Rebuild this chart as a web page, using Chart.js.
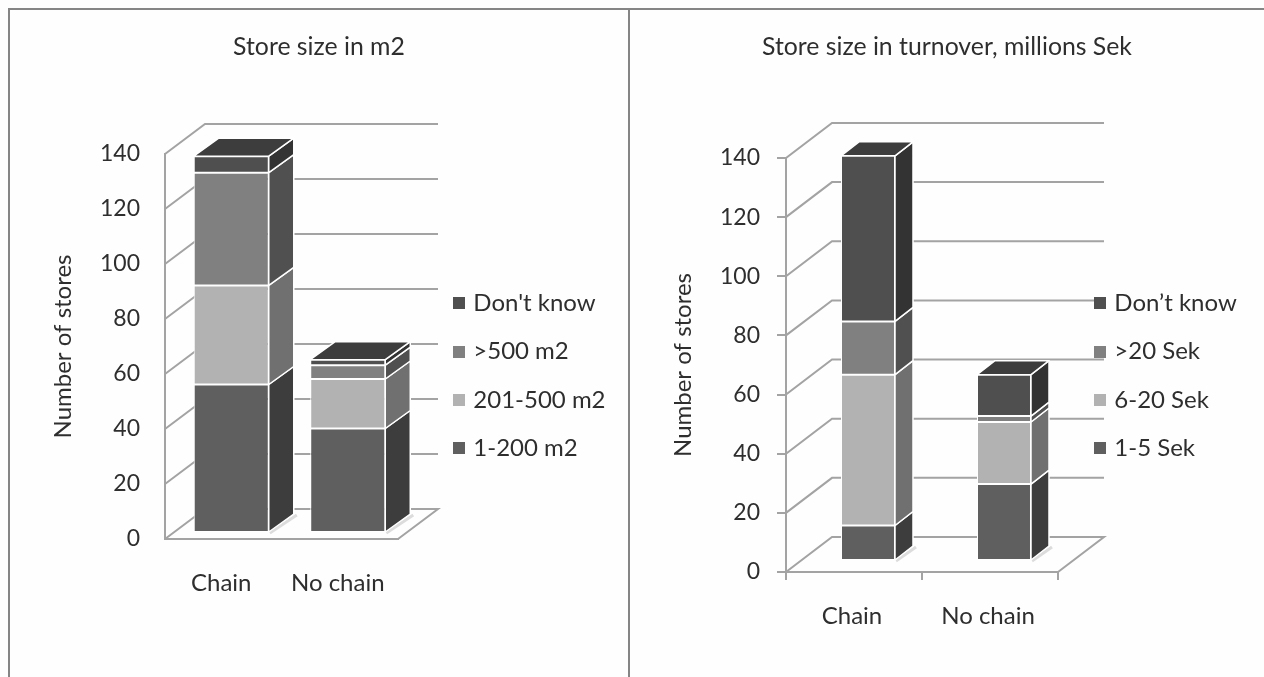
<!DOCTYPE html>
<html>
<head>
<meta charset="utf-8">
<title>Store size</title>
<script src="https://cdn.jsdelivr.net/npm/chart.js@4"></script>
<style>
  html, body { margin: 0; padding: 0; background: #fefefe; overflow: hidden; }
  body { width: 1264px; height: 677px; position: relative; }
  canvas { position: absolute; top: 0; }
  #c1 { left: 10px; }
  #c2 { left: 630px; }
  .rule { position: absolute; background: #858585; }
</style>
</head>
<body>
<div class="rule" style="left:8px;top:8px;width:1256px;height:2px"></div>
<div class="rule" style="left:8px;top:8px;width:2px;height:669px"></div>
<div class="rule" style="left:628px;top:8px;width:2px;height:669px"></div>
<canvas id="c1" width="618" height="677"></canvas>
<canvas id="c2" width="634" height="677"></canvas>
<script>
var categories = ['Chain', 'No chain'];
var yTicks = [0, 20, 40, 60, 80, 100, 120, 140];

// left chart, store size in m2
var m2Labels = ['1-200 m2', '201-500 m2', '>500 m2', "Don't know"];
var m2Small = [54, 38];
var m2Medium = [36, 18];
var m2Large = [41, 5];
var m2Unknown = [6, 2];

// right chart, turnover
var sekLabels = ['1-5 Sek', '6-20 Sek', '>20 Sek', 'Don\u2019t know'];
var sekSmall = [12, 26];
var sekMedium = [51, 21];
var sekLarge = [18, 2];
var sekUnknown = [56, 14];

var frontColors = ['#5f5f5f', '#b2b2b2', '#808080', '#4f4f4f'];
var sideColors = ['#3d3d3d', '#707070', '#505050', '#333333'];
var topColor = '#3d3d3d';
var lineColor = '#a3a3a3';
var textColor = '#2e2e2e';
var fontName = 'Lato, Carlito, sans-serif';

// legend swatch as a small canvas, so the gap to the text can be tighter than chart.js default
function swatch(color) {
  var c = document.createElement('canvas');
  c.width = 12;
  c.height = 12;
  var g = c.getContext('2d');
  g.fillStyle = color;
  g.fillRect(0, 0, 12, 12);
  return c;
}

// fake 3d: walls and floor behind the plot, side and top faces of the bars
var depthPlugin = {
  id: 'depth',
  afterLayout: function(chart, args, o) {
    var lg = chart.legend;
    lg.left = o.legendX;
    lg.right = chart.width;
    lg.top = o.legendY;
    lg.bottom = o.legendY + 240;
    chart.titleBlock.left = 0;
    chart.titleBlock.right = chart.width;
  },
  beforeDraw: function(chart, args, o) {
    var ctx = chart.ctx, y = chart.scales.y, a = chart.chartArea;
    ctx.save();
    ctx.strokeStyle = lineColor;
    ctx.lineWidth = 2;
    yTicks.forEach(function(v) {
      if (v === 0) return;
      var py = y.getPixelForValue(v);
      ctx.beginPath();
      ctx.moveTo(a.left, py);
      ctx.lineTo(a.left + o.wallX, py + o.wallY);
      ctx.lineTo(a.right + o.wallX, py + o.wallY);
      ctx.stroke();
    });
    var py0 = y.getPixelForValue(0);
    ctx.beginPath();
    ctx.moveTo(a.left, py0);
    ctx.lineTo(a.left + o.wallX, py0 + o.wallY);
    ctx.lineTo(a.right + o.wallX, py0 + o.wallY);
    ctx.lineTo(a.right, py0);
    ctx.stroke();
    ctx.restore();
  },
  beforeDatasetsDraw: function(chart, args, o) {
    var ctx = chart.ctx;
    ctx.save();
    ctx.translate(o.shiftX, o.shiftY);
    ctx.lineJoin = 'round';
    chart.data.datasets.forEach(function(ds, i) {
      chart.getDatasetMeta(i).data.forEach(function(bar) {
        var r = bar.x + bar.width / 2, l = bar.x - bar.width / 2;
        if (i === 0) {
          // soft light patch on the floor next to the bar foot
          ctx.strokeStyle = '#dcdcdc';
          ctx.lineWidth = 3;
          ctx.beginPath();
          ctx.moveTo(r + 1, bar.base + 1);
          ctx.lineTo(r + o.barX + 3, bar.base + o.barY + 1);
          ctx.stroke();
        }
        ctx.strokeStyle = '#ffffff';
        ctx.lineWidth = 1.5;
        ctx.fillStyle = sideColors[i];
        ctx.beginPath();
        ctx.moveTo(r, bar.y);
        ctx.lineTo(r + o.barX, bar.y + o.barY);
        ctx.lineTo(r + o.barX, bar.base + o.barY);
        ctx.lineTo(r, bar.base);
        ctx.closePath();
        ctx.fill();
        ctx.stroke();
        if (i === chart.data.datasets.length - 1) {
          ctx.fillStyle = topColor;
          ctx.beginPath();
          ctx.moveTo(l, bar.y);
          ctx.lineTo(l + o.barX, bar.y + o.barY);
          ctx.lineTo(r + o.barX, bar.y + o.barY);
          ctx.lineTo(r, bar.y);
          ctx.closePath();
          ctx.fill();
          ctx.stroke();
        }
      });
    });
  },
  afterDatasetsDraw: function(chart) {
    chart.ctx.restore();
  }
};

function makeChart(id, title, labels, series, p) {
  var datasets = [];
  for (var i = 0; i < series.length; i++) {
    datasets.push({
      label: labels[i],
      data: series[i],
      backgroundColor: frontColors[i],
      borderColor: '#ffffff',
      borderWidth: 1,
      borderSkipped: false,
      categoryPercentage: 1,
      barPercentage: p.barPct,
      clip: false
    });
  }
  return new Chart(document.getElementById(id), {
    type: 'bar',
    data: { labels: categories, datasets: datasets },
    plugins: [depthPlugin],
    options: {
      responsive: false,
      animation: false,
      layout: { autoPadding: false, padding: { left: 0, right: p.padRight, top: 0, bottom: 0 } },
      plugins: {
        depth: p,
        tooltip: { enabled: false },
        title: {
          display: true,
          text: title,
          color: textColor,
          font: { family: fontName, size: 24.8, weight: 'normal' },
          padding: { top: 32, bottom: p.titleBottom }
        },
        legend: {
          position: 'chartArea',
          align: 'start',
          reverse: true,
          labels: {
            color: textColor,
            font: { family: fontName, size: 24 },
            usePointStyle: true,
            pointStyleWidth: 4,
            boxHeight: 12,
            padding: 24.3,
            generateLabels: function(chart) {
              return Chart.defaults.plugins.legend.labels.generateLabels(chart).map(function(it) {
                it.pointStyle = swatch(frontColors[it.datasetIndex]);
                return it;
              });
            }
          }
        }
      },
      scales: {
        x: {
          stacked: true,
          afterFit: function(s) { s.height = p.xHeight; },
          border: { color: lineColor, width: 2 },
          grid: { drawOnChartArea: false, drawTicks: p.ticks, tickLength: 8, color: lineColor, lineWidth: 2 },
          ticks: { color: textColor, padding: p.xPad, labelOffset: -2, maxRotation: 0, font: { family: fontName, size: 24 } }
        },
        y: {
          stacked: true,
          min: 0,
          max: 140,
          afterFit: function(s) { s.width = p.yWidth; },
          border: { color: lineColor, width: 2 },
          grid: { drawOnChartArea: false, drawTicks: p.ticks, tickLength: 9, color: lineColor, lineWidth: 2 },
          ticks: { color: textColor, padding: p.yPad, stepSize: 20, font: { family: fontName, size: 23 } },
          title: {
            display: true,
            text: 'Number of stores',
            color: textColor,
            font: { family: fontName, size: 24 },
            padding: { top: p.yTitlePad, bottom: 0 }
          }
        }
      }
    }
  });
}

makeChart('c1', 'Store size in m2', m2Labels, [m2Small, m2Medium, m2Large, m2Unknown], {
  barPct: 0.644, padRight: 230, yWidth: 155, xHeight: 138, titleBottom: 92.2,
  ticks: false, xPad: 30, yPad: 25, yTitlePad: 38.6,
  wallX: 40, wallY: -30, barX: 25, barY: -18, shiftX: 8, shiftY: -6,
  legendX: 423, legendY: 267
});

makeChart('c2', 'Store size in turnover, millions Sek', sekLabels, [sekSmall, sekMedium, sekLarge, sekUnknown], {
  barPct: 0.397, padRight: 206, yWidth: 156, xHeight: 105, titleBottom: 96.2,
  ticks: true, xPad: 22, yPad: 17, yTitlePad: 38.6,
  wallX: 46, wallY: -35, barX: 18, barY: -14, shiftX: 14, shiftY: -11,
  legendX: 444, legendY: 267
});
</script>
</body>
</html>
